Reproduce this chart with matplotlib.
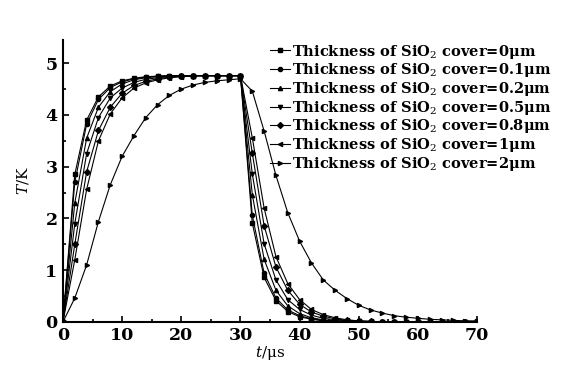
import numpy as np
import matplotlib
matplotlib.use("Agg")
import matplotlib.pyplot as plt
from matplotlib.ticker import MultipleLocator

# time axis, us (one point every 2 us)
t = [0, 2, 4, 6, 8, 10, 12, 14, 16, 18, 20, 22, 24, 26, 28, 30,
     32, 34, 36, 38, 40, 42, 44, 46, 48, 50, 52, 54, 56, 58, 60, 62, 64, 66, 68, 70]

T_0 = [0, 2.85, 3.90, 4.35, 4.56, 4.66, 4.71, 4.74, 4.75, 4.76, 4.76, 4.76, 4.76, 4.76, 4.76, 4.76,
       1.91, 0.86, 0.41, 0.20, 0.10, 0.05, 0.02, 0.01, 0, 0, 0, 0, 0, 0, 0, 0, 0, 0, 0, 0]
T_01 = [0, 2.70, 3.82, 4.30, 4.53, 4.64, 4.70, 4.73, 4.75, 4.76, 4.76, 4.76, 4.76, 4.76, 4.76, 4.76,
        2.06, 0.94, 0.46, 0.23, 0.12, 0.06, 0.03, 0.01, 0, 0, 0, 0, 0, 0, 0, 0, 0, 0, 0, 0]
T_02 = [0, 2.30, 3.55, 4.15, 4.45, 4.60, 4.68, 4.72, 4.74, 4.75, 4.76, 4.76, 4.76, 4.76, 4.76, 4.76,
        2.46, 1.21, 0.61, 0.31, 0.16, 0.08, 0.04, 0.02, 0.01, 0, 0, 0, 0, 0, 0, 0, 0, 0, 0, 0]
T_05 = [0, 1.90, 3.25, 3.95, 4.33, 4.52, 4.63, 4.69, 4.72, 4.74, 4.75, 4.76, 4.76, 4.76, 4.76, 4.76,
        2.86, 1.51, 0.81, 0.43, 0.24, 0.13, 0.07, 0.04, 0.02, 0.01, 0, 0, 0, 0, 0, 0, 0, 0, 0, 0]
T_08 = [0, 1.50, 2.90, 3.70, 4.15, 4.42, 4.57, 4.65, 4.70, 4.73, 4.75, 4.76, 4.76, 4.76, 4.76, 4.76,
        3.26, 1.86, 1.06, 0.61, 0.34, 0.19, 0.11, 0.06, 0.03, 0.02, 0.01, 0, 0, 0, 0, 0, 0, 0, 0, 0]
T_1 = [0, 1.20, 2.56, 3.50, 4.02, 4.33, 4.52, 4.62, 4.68, 4.72, 4.74, 4.75, 4.76, 4.76, 4.76, 4.76,
       3.56, 2.20, 1.26, 0.74, 0.43, 0.24, 0.14, 0.08, 0.04, 0.02, 0.01, 0, 0, 0, 0, 0, 0, 0, 0, 0]
T_2 = [0, 0.46, 1.10, 1.94, 2.65, 3.20, 3.60, 3.95, 4.20, 4.38, 4.50, 4.58, 4.63, 4.66, 4.68, 4.70,
       4.46, 3.69, 2.83, 2.11, 1.56, 1.14, 0.81, 0.61, 0.45, 0.32, 0.23, 0.17, 0.12, 0.09, 0.07, 0.05,
       0.04, 0.03, 0.02, 0.02]

labels = ["0", "0.1", "0.2", "0.5", "0.8", "1", "2"]
series = [T_0, T_01, T_02, T_05, T_08, T_1, T_2]
markers = ["s", "o", "^", "v", "D", "<", ">"]

plt.rcParams['font.family'] = ['DejaVu Serif']
plt.rcParams['mathtext.fontset'] = 'dejavuserif'

fig = plt.figure(figsize=(5.62, 3.70), dpi=100)
ax = fig.add_axes([0.112, 0.13, 0.737, 0.762])

for vals, lab, mk in zip(series, labels, markers):
    ax.plot(t, vals, color="black", lw=0.8, marker=mk, ms=3.0,
            label="Thickness of SiO$_2$ cover=" + lab + "\u03bcm")

ax.set_xlim(0, 70)
ax.set_ylim(0, 5.45)
ax.xaxis.set_major_locator(MultipleLocator(10))
ax.xaxis.set_minor_locator(MultipleLocator(5))
ax.yaxis.set_major_locator(MultipleLocator(1))
ax.yaxis.set_minor_locator(MultipleLocator(0.5))
ax.tick_params(which="both", direction="in", width=1.2, labelsize=12.5)
ax.tick_params(axis="x", which="major", length=4, pad=4)
ax.tick_params(axis="y", which="major", length=4, pad=4)
ax.tick_params(which="minor", length=2.5)
for lb in ax.get_xticklabels() + ax.get_yticklabels():
    lb.set_fontweight("bold")
ax.spines["top"].set_visible(False)
ax.spines["right"].set_visible(False)
ax.spines["left"].set_linewidth(1.5)
ax.spines["bottom"].set_linewidth(1.5)

ax.set_xlabel("$t$/\u03bcs", fontsize=11, labelpad=0)
ax.set_ylabel("$T$/K", fontsize=11, labelpad=10)

ax.legend(loc="upper left", bbox_to_anchor=(0.48, 0.885), bbox_transform=fig.transFigure,
          frameon=False, handlelength=1.4, handletextpad=0.1, labelspacing=0.05,
          prop={"weight": "bold", "size": 10.5}, borderaxespad=0, borderpad=0)

fig.savefig("out.png", dpi=100)
